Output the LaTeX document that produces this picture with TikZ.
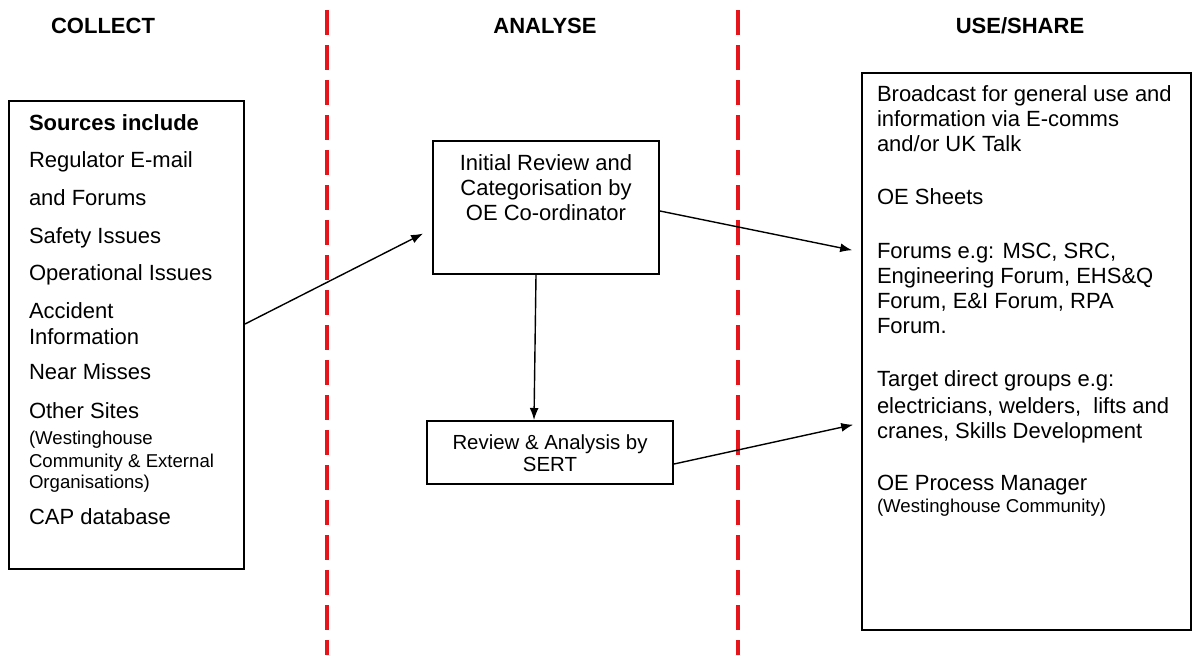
\documentclass[tikz,border=0pt]{standalone}
\usepackage{fontspec}
\setmainfont{Liberation Sans}
\usetikzlibrary{arrows.meta}
\definecolor{sepred}{RGB}{232,20,28}

\begin{document}
\begin{tikzpicture}[x=0.5pt,y=-0.5pt,
		box/.style={draw,line width=1pt,inner sep=0pt,anchor=north west},
		arr/.style={line width=0.7pt,-{Latex[length=6pt,width=4.5pt]}},
		divider/.style={draw=sepred,line width=1.6pt,dash pattern=on 12.5pt off 5pt},
		head/.style={anchor=base,font=\fontsize{11}{13}\selectfont\bfseries}]
			\useasboundingbox (0,0) rectangle (1193,655);
			% column separators
			\draw [divider] (327,10) -- (327,655);
			\draw [divider] (738,10) -- (738,655);
			\node (collect) [head] at (103,33) {COLLECT};
			\node (analyse) [head] at (545,33) {ANALYSE};
			\node (useshare) [head] at (1020,33) {USE/SHARE};
			\node (sources) [box,text height=14.5pt,text depth=219.5pt,inner xsep=10pt,
				font=\fontsize{11}{13}\selectfont] at (8,100) {
				\makebox[97.5pt][l]{\begin{tabular}[t]{@{}l@{}}
					\textbf{Sources include} \\[5.5pt]
					Regulator E-mail \\[6pt]
					and Forums \\[6pt]
					Safety Issues \\[5.5pt]
					Operational Issues \\[6pt]
					Accident \\
					Information \\[4.5pt]
					Near Misses \\[6.5pt]
					Other Sites \\
					{\fontsize{9.3}{11}\selectfont (Westinghouse} \\[-1.5pt]
					{\fontsize{9.3}{11}\selectfont Community \& External} \\[-2.5pt]
					{\fontsize{9.3}{11}\selectfont Organisations)} \\[5pt]
					CAP database
				\end{tabular}}
			};
			\node (init) [box,text height=14.5pt,text depth=52pt,minimum width=113pt,
				font=\fontsize{11}{12.5}\selectfont] at (432,140) {
				\begin{tabular}[t]{@{}c@{}}
					Initial Review and \\
					Categorisation by \\
					OE Co-ordinator
				\end{tabular}
			};
			\node (rev) [box,text height=14pt,text depth=17.5pt,minimum width=123pt,
				font=\fontsize{10.2}{11}\selectfont] at (426,420) {
				\begin{tabular}[t]{@{}c@{}}
					Review \& Analysis by \\
					SERT
				\end{tabular}
			};
			\node (share) [box,text height=14pt,text depth=264.5pt,inner xsep=7.5pt,
				font=\fontsize{11}{12.5}\selectfont] at (861,72) {
				\makebox[149.5pt][l]{\begin{tabular}[t]{@{}l@{}}
					Broadcast for general use and \\
					information via E-comms \\
					and/or UK Talk \\[14pt]
					OE Sheets \\[14.5pt]
					Forums e.g: MSC, SRC, \\
					Engineering Forum, EHS\&Q \\
					Forum, E\&I Forum, RPA \\
					Forum. \\[14pt]
					Target direct groups e.g: \\[1pt]
					electricians, welders,\ \ lifts and \\
					cranes, Skills Development \\[13.5pt]
					OE Process Manager \\[-1.5pt]
					{\fontsize{9.3}{11}\selectfont (Westinghouse Community)}
				\end{tabular}}
			};
			\draw [arr,shorten >=5pt] ([yshift=5.5pt]sources.east) -- ([yshift=-10.75pt]init.west);
			\draw [arr,shorten >=4.5pt] ([yshift=-1.75pt]init.east) -- ([yshift=49.75pt]share.west);
			\draw [arr] ([xshift=-5pt]init.south) -- ([xshift=-8pt]rev.north);
			\draw [arr,shorten >=4pt] ([yshift=-5.75pt]rev.east) -- ([yshift=-35.75pt]share.west);
		\end{tikzpicture}
\end{document}
